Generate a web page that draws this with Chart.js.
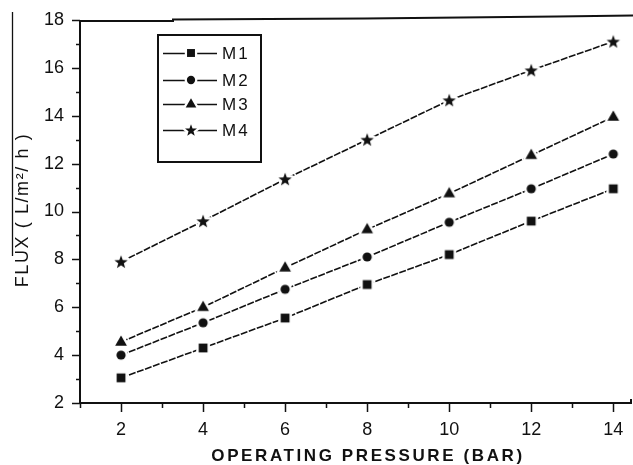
<!DOCTYPE html>
<html>
<head>
<meta charset="utf-8">
<script src="https://cdn.jsdelivr.net/npm/chart.js@4"></script>
<style>
  html, body { margin: 0; padding: 0; background: #fff; }
  #wrap { width: 633px; height: 465px; }
</style>
</head>
<body>
<div id="wrap"><canvas id="c" width="633" height="465"></canvas></div>
<script>
// Operating pressure (bar) and measured permeate flux for each membrane
const pressures = [2, 4, 6, 8, 10, 12, 14];
const seriesNames = ['M1', 'M2', 'M3', 'M4'];
const fluxM1 = [3.05, 4.3, 5.55, 6.95, 8.2, 9.6, 10.95];
const fluxM2 = [4.0, 5.35, 6.75, 8.1, 9.55, 10.95, 12.4];
const fluxM3 = [4.55, 6.0, 7.65, 9.25, 10.75, 12.35, 13.95];
const fluxM4 = [7.9, 9.6, 11.35, 13.0, 14.65, 15.9, 17.1];
const xTitle = 'OPERATING PRESSURE (BAR)';
const yTitle = 'FLUX ( L/m\u00B2/ h )';

const INK = '#111';
const FONT = '"Liberation Sans", Arial, sans-serif';

// Marker sprites: black shape with a white halo so the line breaks around it
function makeMarker(kind, scale) {
  const s = scale || 1;
  const size = Math.round(24 * s);
  const cv = document.createElement('canvas');
  cv.width = size; cv.height = size;
  const g = cv.getContext('2d');
  const c = size / 2;
  function shape() {
    g.beginPath();
    if (kind === 'square') {
      const h = 4.4 * s;
      g.rect(c - h, c - h, 2 * h, 2 * h);
    } else if (kind === 'circle') {
      g.arc(c, c, 4.6 * s, 0, Math.PI * 2);
    } else if (kind === 'triangle') {
      const r = 6.4 * s;
      g.moveTo(c, c - r);
      g.lineTo(c + r * 0.92, c + r * 0.6);
      g.lineTo(c - r * 0.92, c + r * 0.6);
      g.closePath();
    } else {
      const ro = 7 * s, ri = 2.9 * s;
      for (let i = 0; i < 10; i++) {
        const r = i % 2 === 0 ? ro : ri;
        const a = -Math.PI / 2 + i * Math.PI / 5;
        const px = c + r * Math.cos(a), py = c + 0.6 * s + r * Math.sin(a);
        if (i === 0) g.moveTo(px, py); else g.lineTo(px, py);
      }
      g.closePath();
    }
  }
  shape();
  g.strokeStyle = '#fff';
  g.lineWidth = 5 * s;
  g.lineJoin = 'round';
  g.stroke();
  shape();
  g.fillStyle = INK;
  g.fill();
  return cv;
}

const markerKinds = ['square', 'circle', 'triangle', 'star'];
const markers = markerKinds.map(k => makeMarker(k, 1));
const legendMarkers = markerKinds.map(k => makeMarker(k, 0.9));
const seriesValues = [fluxM1, fluxM2, fluxM3, fluxM4];

const datasets = seriesNames.map((name, i) => ({
  label: name,
  data: pressures.map((p, j) => ({ x: p, y: seriesValues[i][j] })),
  borderColor: INK,
  borderWidth: 1.6,
  borderDash: [7, 1.5],
  pointStyle: markers[i],
  pointRadius: 5,
  tension: 0,
  fill: false
}));

// Frame, tick marks, legend and axis titles
const decorations = {
  id: 'decorations',
  afterDraw(chart) {
    const ctx = chart.ctx;
    const xs = chart.scales.x, ys = chart.scales.y;
    const a = chart.chartArea;
    const edge = chart.width;
    ctx.save();
    ctx.strokeStyle = INK;
    ctx.fillStyle = INK;
    ctx.lineCap = 'butt';

    // axes and top rule
    ctx.lineWidth = 2;
    ctx.beginPath();
    ctx.moveTo(a.left, a.top);
    ctx.lineTo(a.left, a.bottom + 1);
    ctx.moveTo(a.left - 1, a.bottom);
    ctx.lineTo(edge - 1, a.bottom);
    ctx.moveTo(edge - 2, a.bottom);
    ctx.lineTo(edge - 2, a.bottom - 4);
    ctx.stroke();
    ctx.beginPath();
    ctx.moveTo(a.left - 1, a.top + 1);
    ctx.lineTo(a.left + 93, a.top + 1);
    ctx.lineTo(a.left + 93, a.top - 0.5);
    ctx.lineTo(a.left + 285, a.top - 1.5);
    ctx.lineTo(a.left + 477, a.top - 3.5);
    ctx.lineTo(edge, a.top - 4.5);
    ctx.stroke();

    // y ticks (outward, left)
    ctx.lineWidth = 1.5;
    ctx.beginPath();
    ys.ticks.forEach(t => {
      if (!Number.isInteger(t.value)) return;
      const y = Math.round(ys.getPixelForValue(t.value)) + 0.5;
      const len = t.value % 2 === 0 ? 8 : 4;
      ctx.moveTo(a.left - len, y);
      ctx.lineTo(a.left, y);
    });
    // x ticks (outward, down)
    xs.ticks.forEach(t => {
      if (!Number.isInteger(t.value)) return;
      const x = Math.round(xs.getPixelForValue(t.value)) + 0.5;
      const len = t.value % 2 === 0 ? 9 : 5;
      ctx.moveTo(x, a.bottom);
      ctx.lineTo(x, a.bottom + len);
    });
    ctx.stroke();

    // legend
    const lg = { x: 158, y: 35, w: 103, h: 127 };
    ctx.lineWidth = 2;
    ctx.strokeRect(lg.x, lg.y, lg.w, lg.h);
    const rows = [53, 80, 104, 130];
    ctx.font = '17px ' + FONT;
    ctx.textBaseline = 'middle';
    ctx.textAlign = 'left';
    if ('letterSpacing' in ctx) ctx.letterSpacing = '2px';
    seriesNames.forEach((name, i) => {
      const y = rows[i];
      ctx.lineWidth = 1.6;
      ctx.beginPath();
      ctx.moveTo(163, y + 0.5);
      ctx.lineTo(217, y + 0.5);
      ctx.stroke();
      const m = legendMarkers[i];
      ctx.drawImage(m, 191 - m.width / 2, y - m.height / 2);
      ctx.fillText(name, 222, y + 1);
    });

    // x axis title
    ctx.font = 'bold 17px ' + FONT;
    if ('letterSpacing' in ctx) ctx.letterSpacing = '2.6px';
    ctx.textAlign = 'center';
    ctx.textBaseline = 'middle';
    ctx.fillText(xTitle, 368, 456);

    // y axis title
    ctx.save();
    ctx.translate(23, 210);
    ctx.rotate(-Math.PI / 2);
    ctx.font = '18px ' + FONT;
    if ('letterSpacing' in ctx) ctx.letterSpacing = '1.6px';
    ctx.fillText(yTitle, 0, 0);
    ctx.restore();

    // rule at the far left
    if ('letterSpacing' in ctx) ctx.letterSpacing = '0px';
    ctx.lineWidth = 1.3;
    ctx.beginPath();
    ctx.moveTo(12.5, 12);
    ctx.lineTo(12.5, 256);
    ctx.stroke();
    ctx.restore();
  }
};

new Chart(document.getElementById('c'), {
  type: 'line',
  data: { datasets },
  plugins: [decorations],
  options: {
    responsive: false,
    animation: false,
    devicePixelRatio: 1,
    layout: { padding: { top: 20, right: 0, bottom: 0, left: 0 } },
    plugins: { legend: { display: false }, tooltip: { enabled: false }, title: { display: false } },
    scales: {
      x: {
        type: 'linear',
        min: 1,
        max: 14.32,
        grid: { display: false, drawTicks: false },
        border: { display: false },
        ticks: {
          stepSize: 1,
          includeBounds: false,
          autoSkip: false,
          maxRotation: 0,
          padding: 16,
          color: INK,
          font: { family: FONT, size: 18 },
          callback: v => (Number.isInteger(v) && v % 2 === 0 && v >= 2) ? String(v) : ''
        },
        afterFit: s => { s.height = 62; s.paddingLeft = 0; s.paddingRight = 0; }
      },
      y: {
        min: 2,
        max: 18,
        grid: { display: false, drawTicks: false },
        border: { display: false },
        ticks: {
          stepSize: 1,
          autoSkip: false,
          padding: 16,
          color: INK,
          font: { family: FONT, size: 18 },
          callback: v => (Number.isInteger(v) && v % 2 === 0) ? String(v) : ''
        },
        afterFit: s => { s.width = 80; s.paddingTop = 0; s.paddingBottom = 0; }
      }
    }
  }
});
</script>
</body>
</html>
